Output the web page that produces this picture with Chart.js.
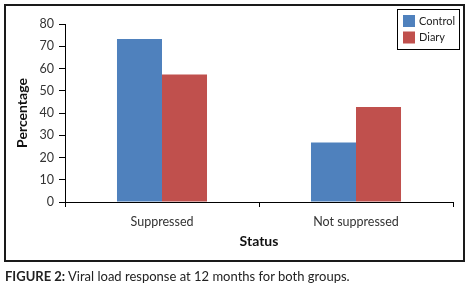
<!DOCTYPE html>
<html>
<head>
<meta charset="utf-8">
<script src="https://cdn.jsdelivr.net/npm/chart.js@4.4.0/dist/chart.umd.min.js"></script>
<style>
    html, body { margin: 0; padding: 0; background: #ffffff; }
    body { width: 473px; height: 295px; position: relative; overflow: hidden; font-family: 'Lato', sans-serif; }
    #chartWrap { position: absolute; left: 0; top: 0; width: 473px; height: 262px; }
    #frame { position: absolute; left: 4px; top: 4px; width: 461px; height: 258px; box-sizing: border-box; border: 2px solid #1a1a1a; pointer-events: none; }
    #caption { position: absolute; left: 5px; top: 268px; font-size: 13px; line-height: 16px; color: #222; white-space: nowrap; }
    #caption b { font-weight: 700; }
</style>
</head>
<body>
<div id="chartWrap"><canvas id="viralChart"></canvas></div>
<div id="frame"></div>
<div id="caption"><b>FIGURE 2:</b> Viral load response at 12 months for both groups.</div>

<script>
// Data
const categories = ['Suppressed', 'Not suppressed'];
const seriesNames = ['Control', 'Diary'];
const controlValues = [73.3, 26.7];
const diaryValues = [57.3, 42.7];
const yMin = 0;
const yMax = 80;
const yStep = 10;

const colors = {
    control: '#4F81BD',
    diary: '#C0504D',
    axis: '#000000',
    text: '#333333'
};

// Legend box drawn inside the plot, top right
const boxLegend = {
    id: 'boxLegend',
    afterDraw(chart) {
        const ctx = chart.ctx;
        const x = 397, y = 9, w = 62, h = 40;
        ctx.save();
        ctx.fillStyle = '#ffffff';
        ctx.fillRect(x, y, w, h);
        ctx.strokeStyle = '#000000';
        ctx.lineWidth = 1;
        ctx.strokeRect(x + 0.5, y + 0.5, w, h);
        ctx.font = "11px 'Lato', sans-serif";
        ctx.textBaseline = 'middle';
        chart.data.datasets.forEach(function(ds, i) {
            const rowY = y + 12 + i * 16.5;
            ctx.fillStyle = ds.backgroundColor;
            ctx.fillRect(x + 6, rowY - 6, 12, 12);
            ctx.fillStyle = '#222222';
            ctx.fillText(ds.label, x + 22, rowY);
        });
        ctx.restore();
    }
};

const ctx = document.getElementById('viralChart').getContext('2d');
const viralChart = new Chart(ctx, {
    type: 'bar',
    data: {
        labels: categories,
        datasets: [{
            label: seriesNames[0],
            data: controlValues,
            backgroundColor: colors.control,
            borderWidth: 0
        }, {
            label: seriesNames[1],
            data: diaryValues,
            backgroundColor: colors.diary,
            borderWidth: 0
        }]
    },
    options: {
        responsive: true,
        maintainAspectRatio: false,
        animation: false,
        datasets: {
            bar: {
                categoryPercentage: 0.464,
                barPercentage: 1.0
            }
        },
        layout: {
            padding: { left: 0, right: 20, top: 24, bottom: 8 }
        },
        plugins: {
            legend: { display: false },
            tooltip: { enabled: false }
        },
        scales: {
            x: {
                afterFit: function(scale) { scale.height = 52; },
                grid: {
                    offset: true,
                    drawOnChartArea: false,
                    tickLength: 5,
                    color: colors.axis
                },
                border: { color: colors.axis, width: 1 },
                ticks: {
                    color: colors.text,
                    padding: 7,
                    font: { family: "'Lato', sans-serif", size: 12.5 }
                },
                title: {
                    display: true,
                    text: 'Status',
                    color: '#111111',
                    padding: { top: 0, bottom: 4 },
                    font: { family: "'Lato', sans-serif", size: 14, weight: 'bold' }
                }
            },
            y: {
                min: yMin,
                max: yMax,
                afterFit: function(scale) { scale.width = 65; },
                grid: {
                    drawOnChartArea: false,
                    tickLength: 6,
                    color: colors.axis
                },
                border: { color: colors.axis, width: 1 },
                ticks: {
                    stepSize: yStep,
                    color: colors.text,
                    padding: 5,
                    font: { family: "'Lato', sans-serif", size: 12.5 }
                },
                title: {
                    display: true,
                    text: 'Percentage',
                    color: '#111111',
                    padding: { top: 14, bottom: 0 },
                    font: { family: "'Lato', sans-serif", size: 14, weight: 'bold' }
                }
            }
        }
    },
    plugins: [boxLegend]
});
</script>
</body>
</html>
